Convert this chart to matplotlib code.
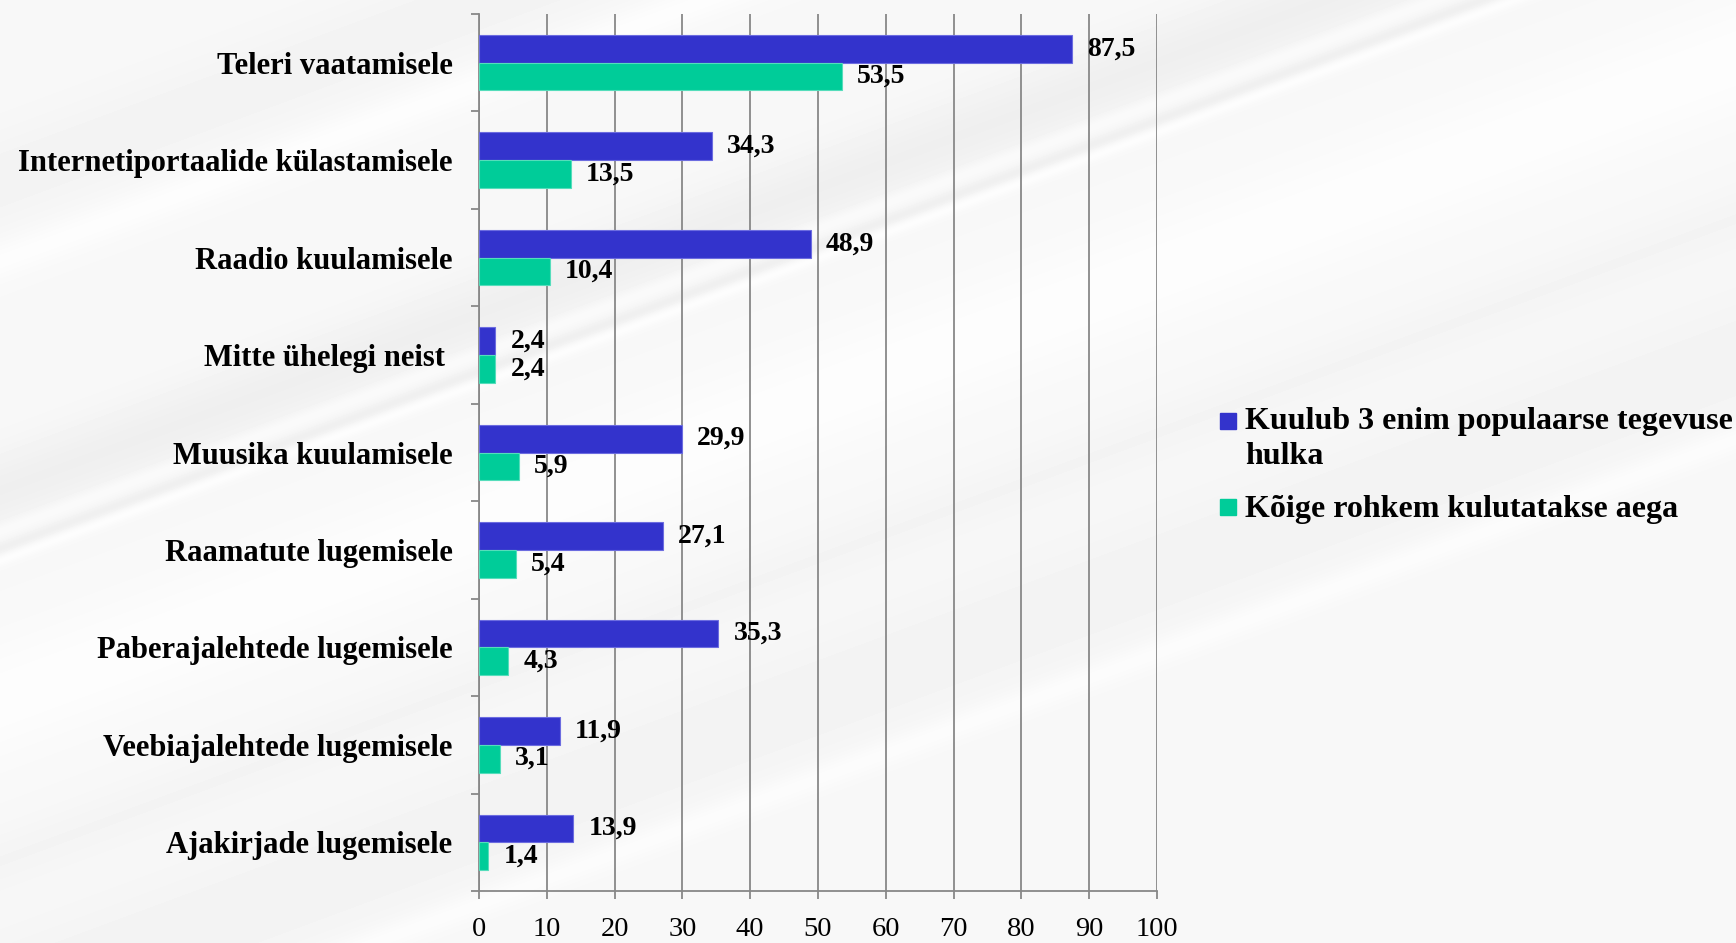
import numpy as np
import matplotlib
matplotlib.use("Agg")
import matplotlib.pyplot as plt
from matplotlib.patches import Rectangle

categories = ["Teleri vaatamisele", "Internetiportaalide külastamisele", "Raadio kuulamisele",
              "Mitte ühelegi neist ", "Muusika kuulamisele", "Raamatute lugemisele",
              "Paberajalehtede lugemisele", "Veebiajalehtede lugemisele", "Ajakirjade lugemisele"]
top3 = [87.5, 34.3, 48.9, 2.4, 29.9, 27.1, 35.3, 11.9, 13.9]
most_time = [53.5, 13.5, 10.4, 2.4, 5.9, 5.4, 4.3, 3.1, 1.4]
series_names = ["Kuulub 3 enim populaarse tegevuse\nhulka", "Kõige rohkem kulutatakse aega"]
colors = ["#3333CC", "#00CC99"]
xticks = list(range(0, 101, 10))

plt.rcParams['font.family'] = ['Liberation Serif', 'DejaVu Serif']

W, H = 1736, 943
fig = plt.figure(figsize=(W / 100, H / 100), dpi=100)

# decorative background with diagonal streaks
yy, xx = np.mgrid[0:H, 0:W].astype(float)
d = yy + 0.37 * xx
bg = np.full((H, W), 0.972)
for c, w, a in [(490, 40, -0.035), (530, 8, 0.02), (548, 6, -0.03), (560, 6, 0.02),
                (700, 60, 0.02), (180, 50, -0.02), (260, 20, 0.02), (1000, 70, -0.02),
                (1080, 15, 0.02), (860, 30, -0.015)]:
    bg += a * np.exp(-((d - c) / w) ** 2)
bg = np.clip(bg, 0, 1)
bgax = fig.add_axes([0, 0, 1, 1], zorder=-10)
bgax.imshow(bg, cmap='gray', vmin=0, vmax=1, aspect='auto', extent=[0, W, H, 0])
bgax.axis('off')

ax = fig.add_axes([479 / W, 52 / H, (1157 - 479) / W, (929 - 52) / H])
ax.patch.set_alpha(0)

y = np.arange(len(categories))
h = 0.284
ax.barh(y - h / 2, top3, height=h, color=colors[0], edgecolor='#6c6ce0', linewidth=0.8, zorder=3)
ax.barh(y + h / 2, most_time, height=h, color=colors[1], edgecolor='#55ddbb', linewidth=0.8, zorder=3)

for i in range(len(categories)):
    ax.annotate(f"{top3[i]:.1f}".replace('.', ','), (top3[i], y[i] - h / 2),
                xytext=(11, 0), textcoords='offset points', ha='left', va='center',
                fontsize=20, fontweight='bold')
    ax.annotate(f"{most_time[i]:.1f}".replace('.', ','), (most_time[i], y[i] + h / 2),
                xytext=(11, 0), textcoords='offset points', ha='left', va='center',
                fontsize=20, fontweight='bold')

ax.set_xlim(0, 100)
ax.set_ylim(len(categories) - 0.5, -0.5)
ax.set_xticks(xticks)
ax.set_xticklabels([str(t) for t in xticks], fontsize=20.5)
ax.set_yticks(y)
ax.set_yticklabels(categories, fontsize=22, fontweight='bold')
ax.set_yticks(np.arange(-0.5, len(categories), 1), minor=True)
ax.tick_params(axis='y', which='major', length=0, pad=19)
ax.tick_params(axis='y', which='minor', length=6, color='#888888', width=1.3)
ax.tick_params(axis='x', which='major', length=6, color='#888888', width=1.3, pad=13)
ax.grid(axis='x', color='#888888', linewidth=1.3, zorder=0)
ax.set_axisbelow(True)
for s in ['top', 'right']:
    ax.spines[s].set_visible(False)
for s in ['left', 'bottom']:
    ax.spines[s].set_color('#888888')
    ax.spines[s].set_linewidth(1.3)

# legend
leg_y = [421, 507]
text_y = [439, 509]
for k, name in enumerate(series_names):
    yc = leg_y[k]
    fig.patches.append(Rectangle((1220 / W, 1 - (yc + 8) / H), 16 / W, 16 / H,
                                 transform=fig.transFigure, color=colors[k]))
    fig.text(1245 / W, 1 - text_y[k] / H, name, fontsize=23, fontweight='bold',
             ha='left', va='center', linespacing=1.3, multialignment='left')

fig.savefig("out.png", dpi=100)
